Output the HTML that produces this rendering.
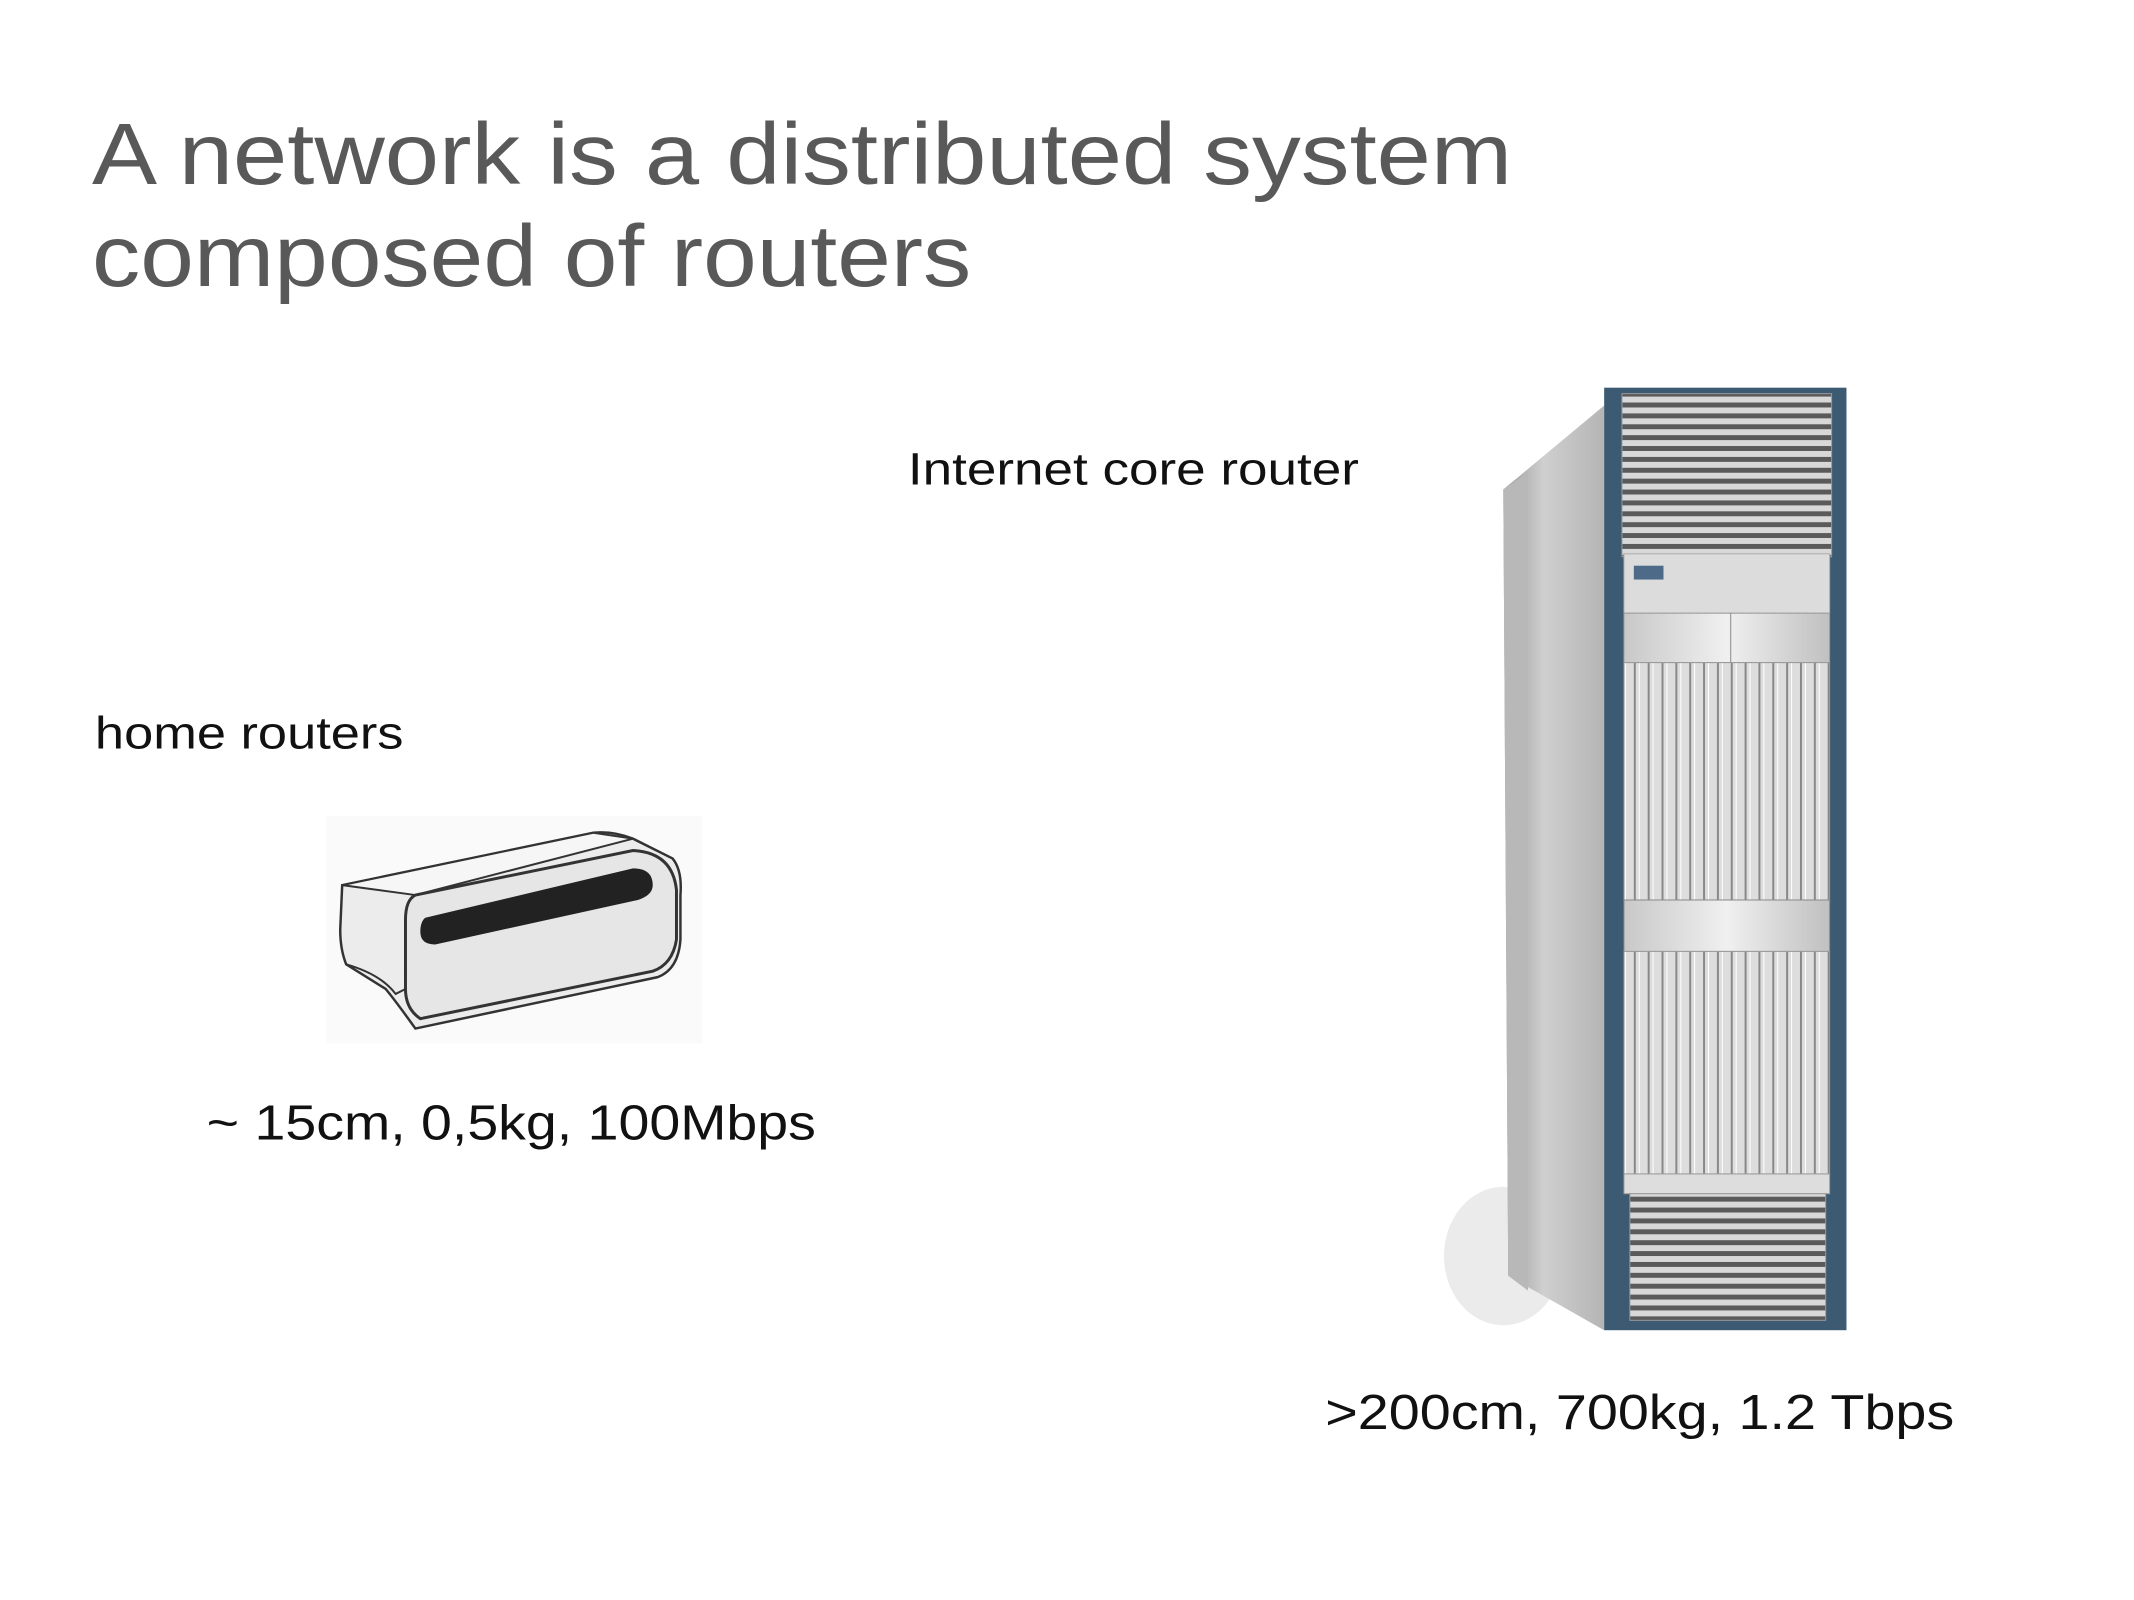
<!DOCTYPE html>
<html><head><meta charset="utf-8"><style>html,body{margin:0;padding:0;background:#fff}svg{display:block}</style></head>
<body>
<svg width="2134" height="1600" viewBox="0 0 2134 1600" xmlns="http://www.w3.org/2000/svg" font-family="'Liberation Sans', 'DejaVu Sans', sans-serif">
<rect width="2134" height="1600" fill="#fff"/>
<defs>
<linearGradient id="side" x1="0" x2="1"><stop offset="0" stop-color="#9a9a9a"/><stop offset="0.4" stop-color="#cfcfcf"/><stop offset="1" stop-color="#b5b5b5"/></linearGradient>
<linearGradient id="face" x1="0" x2="1"><stop offset="0" stop-color="#c8c8c8"/><stop offset="0.5" stop-color="#f0f0f0"/><stop offset="1" stop-color="#c0c0c0"/></linearGradient>
<pattern id="slots" width="14" height="10" patternUnits="userSpaceOnUse"><rect width="14" height="10" fill="#ddd"/><rect x="0" width="2" height="10" fill="#888"/><rect x="5" width="1" height="10" fill="#fff"/></pattern>
<pattern id="grill" width="10" height="11" patternUnits="userSpaceOnUse"><rect width="10" height="11" fill="#d8d8d8"/><rect y="0" width="10" height="5" fill="#5a5a5a"/></pattern>
</defs>
<g transform="scale(0.989)">
<text x="93" y="186" font-size="88" fill="#595959" textLength="1436" lengthAdjust="spacingAndGlyphs">A network is a distributed system</text>
<text x="93" y="289" font-size="88" fill="#595959" textLength="889" lengthAdjust="spacingAndGlyphs">composed of routers</text>
<text x="918" y="490" font-size="46" fill="#111" textLength="456" lengthAdjust="spacingAndGlyphs">Internet core router</text>
<text x="96" y="757" font-size="46" fill="#111" textLength="312" lengthAdjust="spacingAndGlyphs">home routers</text>
<text x="209" y="1152" font-size="50" fill="#111" textLength="616" lengthAdjust="spacingAndGlyphs">~ 15cm, 0,5kg, 100Mbps</text>
<text x="1340" y="1445" font-size="50" fill="#111" textLength="636" lengthAdjust="spacingAndGlyphs">&gt;200cm, 700kg, 1.2 Tbps</text>

<!-- home router -->
<rect x="330" y="825" width="380" height="230" fill="#fafafa"/>
<path d="M346 895 L600 842 Q620 840 640 848 L680 868 Q690 880 688 905 L688 950 Q686 980 665 988 L420 1040 Q400 1012 390 1000 L350 975 Q344 960 344 940 Z" fill="#ececec" stroke="#333" stroke-width="2.5"/>
<path d="M346 895 L600 842 L640 848 L420 905 Z" fill="#f6f6f6" stroke="#333" stroke-width="2"/>
<path d="M420 905 L640 860 Q680 862 684 900 L684 950 Q680 975 660 982 L425 1030 Q410 1020 410 1000 L410 930 Q410 910 420 905 Z" fill="#e6e6e6" stroke="#333" stroke-width="3"/>
<path d="M430 928 L640 878 Q660 878 660 895 Q660 905 645 910 L440 955 Q425 955 425 942 Q425 932 430 928 Z" fill="#222"/>
<path d="M350 975 Q385 985 400 1005 L410 1000" fill="none" stroke="#333" stroke-width="2"/>

<!-- core router rack -->
<ellipse cx="1520" cy="1270" rx="60" ry="70" fill="#ddd" opacity="0.6"/>
<path d="M1520 495 L1622 410 L1622 1345 L1525 1290 Z" fill="url(#side)"/>
<path d="M1520 495 L1545 478 L1545 1305 L1525 1290 Z" fill="#b8b8b8"/>
<rect x="1622" y="392" width="245" height="953" fill="#3c5a72"/>
<rect x="1640" y="398" width="212" height="165" fill="url(#grill)" stroke="#999"/>
<rect x="1642" y="560" width="208" height="60" fill="#dcdcdc" stroke="#aaa"/>
<rect x="1652" y="572" width="30" height="14" fill="#4d6b88"/>
<rect x="1642" y="620" width="208" height="50" fill="url(#face)" stroke="#999"/>
<line x1="1750" y1="620" x2="1750" y2="670" stroke="#888"/>
<rect x="1642" y="670" width="208" height="245" fill="url(#slots)" stroke="#999"/>
<rect x="1642" y="910" width="208" height="52" fill="url(#face)" stroke="#888"/>
<rect x="1642" y="962" width="208" height="225" fill="url(#slots)" stroke="#999"/>
<rect x="1642" y="1187" width="208" height="20" fill="#ddd" stroke="#999"/>
<rect x="1648" y="1207" width="198" height="128" fill="url(#grill)" stroke="#999"/>
</g>
</svg>
</body></html>
